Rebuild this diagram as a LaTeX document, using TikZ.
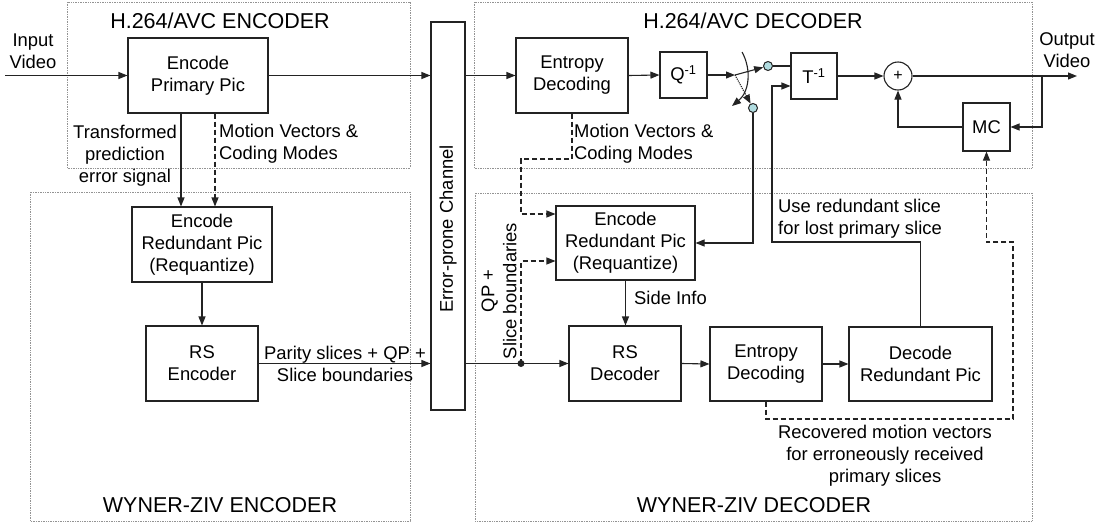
\documentclass[tikz,border=0pt]{standalone}
\usepackage{fontspec}
\setmainfont{Liberation Sans}
\usetikzlibrary{arrows.meta}
\definecolor{swc}{RGB}{176,220,224}
\definecolor{lncol}{RGB}{35,35,35}
\begin{document}
\begin{tikzpicture}[x=1pt,y=-1pt,
  every node/.style={font=\fontsize{18.4}{22}\selectfont, inner sep=0pt},
  blk/.style={draw=lncol, line width=1.1pt, align=center, fill=white},
  wire/.style={draw=lncol, line width=1.1pt},
  arr/.style={wire, -{Triangle[length=9pt,width=7pt]}},
  dsh/.style={dash pattern=on 5pt off 3pt},
  grp/.style={draw=gray!85, densely dotted, line width=0.7pt},
  ttl/.style={font=\fontsize{21.5}{25}\selectfont},
  swcirc/.style={circle, draw=lncol, fill=swc, line width=1pt, minimum size=9pt}
]
\useasboundingbox (0,0) rectangle (1103,525);
\fill[white] (0,0) rectangle (1103,525);

% group boxes
\draw[grp] (67,2) rectangle (410,168);
\draw[grp] (30,192) rectangle (410,521);
\draw[grp] (474,2) rectangle (1032,168);
\draw[grp] (475,193) rectangle (1032,521);

% titles
\node[ttl] (tEnc) at (220,21) {H.264/AVC ENCODER};
\node[ttl] (tDec) at (753,21) {H.264/AVC DECODER};
\node[ttl] (tWzE) at (220,505) {WYNER-ZIV ENCODER};
\node[ttl] (tWzD) at (754,505) {WYNER-ZIV DECODER};

% encoder blocks
\node[blk, minimum width=140pt, minimum height=75pt] (epp) at (198,75.5) {Encode\\Primary Pic};
\node[blk, minimum width=140pt, minimum height=75pt] (erpE) at (202,244.5) {Encode\\Redundant Pic\\(Requantize)};
\node[blk, minimum width=112pt, minimum height=75pt] (rsE) at (202,363.5) {RS\\Encoder};

% channel
\node[blk, minimum width=34pt, minimum height=388pt] (chan) at (448,216) {};
\node[rotate=90] (chanT) at (448,229) {Error-prone Channel};

% decoder blocks
\node[blk, minimum width=112pt, minimum height=75pt] (edT) at (572,75.5) {Entropy\\Decoding};
\node[blk, minimum width=47pt, minimum height=46pt] (qinv) at (683.5,75) {Q\textsuperscript{-1}};
\node[blk, minimum width=46pt, minimum height=46pt] (tinv) at (814,76) {T\textsuperscript{-1}};
\node[circle, draw=lncol, line width=1.1pt, minimum size=28pt, font=\fontsize{16}{18}\selectfont] (plus) at (898,76) {+};
\node[blk, minimum width=47pt, minimum height=48pt] (mc) at (986.5,127) {MC};
\node[blk, minimum width=139pt, minimum height=74pt] (erpD) at (625.5,243) {Encode\\Redundant Pic\\(Requantize)};
\node[blk, minimum width=112pt, minimum height=75pt] (rsD) at (625,363.5) {RS\\Decoder};
\node[blk, minimum width=112pt, minimum height=74pt] (edW) at (766,364) {Entropy\\Decoding};
\node[blk, minimum width=143pt, minimum height=74pt] (drp) at (920.5,364) {Decode\\Redundant Pic};

% labels
\node[align=center] (lIn) at (33,51) {Input\\Video};
\node[align=center] (lOut) at (1067,50.5) {Output\\Video};
\node[align=center] (lTr) at (125,156) {Transformed\\prediction\\error signal};
\node[align=left, anchor=west] (lMvE) at (219,144) {Motion Vectors \&\\Coding Modes};
\node[align=left, anchor=west] (lMvD) at (574,144) {Motion Vectors \&\\Coding Modes};
\node[align=center] (lPar) at (345,363.5) {Parity slices + QP +\\Slice boundaries};
\node[align=center, rotate=90] (lQP) at (499,291) {QP +\\Slice boundaries};
\node[anchor=west] (lSide) at (634,298) {Side Info};
\node[align=left, anchor=west] (lUse) at (778,218.5) {Use redundant slice\\for lost primary slice};
\node[align=center] (lRec) at (885,456) {Recovered motion vectors\\for erroneously received\\primary slices};

% encoder connectors
\coordinate (inv) at (5,75.5);
\draw[arr] (inv) -- (epp.west);
\draw[arr] (epp.east) -- (epp.east -| chan.west);
\coordinate (t1) at ([xshift=-17pt]epp.south);
\coordinate (t2) at ([xshift=17pt]epp.south);
\draw[arr] (t1) -- (t1 |- erpE.north);
\draw[arr, dsh] (t2) -- (t2 |- erpE.north);
\draw[arr] (erpE.south) -- (rsE.north);
\draw[arr] (rsE.east) -- (rsE.east -| chan.west);

% channel to decoder
\draw[arr] (chan.east |- edT.west) -- (edT.west);
\draw[arr] (edT.east) -- (qinv.west);
\draw[arr] (chan.east |- rsD.west) -- (rsD.west);
\coordinate (dotp) at (521,363.5);
\fill[lncol] (dotp) circle (3.5pt);
\coordinate (q1) at (521,261);
\draw[arr, dsh] (dotp) -- (q1) -- (q1 -| erpD.west);
\coordinate (m1) at (521,159);
\coordinate (m2) at (521,214);
\draw[arr, dsh] (edT.south) |- (m1) -- (m2) -- (m2 -| erpD.west);

% switch
\coordinate (sw) at (735,75);
\node[swcirc] (c1) at (768,66) {};
\node[swcirc] (c2) at (753,108) {};
\draw[arr] (qinv.east) -- (sw);
\draw[arr] (sw) -- (c1);
\draw[arr, densely dotted] (sw) -- (c2);
\coordinate (a1) at (742,52);
\coordinate (a2) at (732,106);
\draw[arr] (a1) .. controls (752,70) and (749,92) .. (a2);
\draw[wire] (c1.east) -- (c1.east -| tinv.west);
\draw[arr] (c2.south) |- (erpD.east);

% redundant slice path to T^-1
\coordinate (u1) at (920.5,242);
\coordinate (u2) at (772,242);
\coordinate (u3) at (772,86);
\draw[arr] (drp.north) -- (u1) -- (u2) -- (u3) -- (u3 -| tinv.west);

% reconstruction loop
\draw[arr] (tinv.east) -- (plus.west);
\coordinate (outv) at (1077,76);
\draw[arr] (plus.east) -- (outv);
\coordinate (fb) at (1042,76);
\draw[arr] (fb) |- (mc.east);
\draw[arr] (mc.west) -| (plus.south);

% WZ decoder chain
\draw[arr] (erpD.south) -- (erpD.south |- rsD.north);
\draw[arr] (rsD.east) -- (edW.west);
\draw[arr] (edW.east) -- (drp.west);

% recovered MVs to MC
\coordinate (r1) at (1013,419);
\coordinate (r2) at (1013,242);
\draw[arr, dsh] (edW.south) |- (r1) -- (r2) -| (mc.south);
\end{tikzpicture}
\end{document}
